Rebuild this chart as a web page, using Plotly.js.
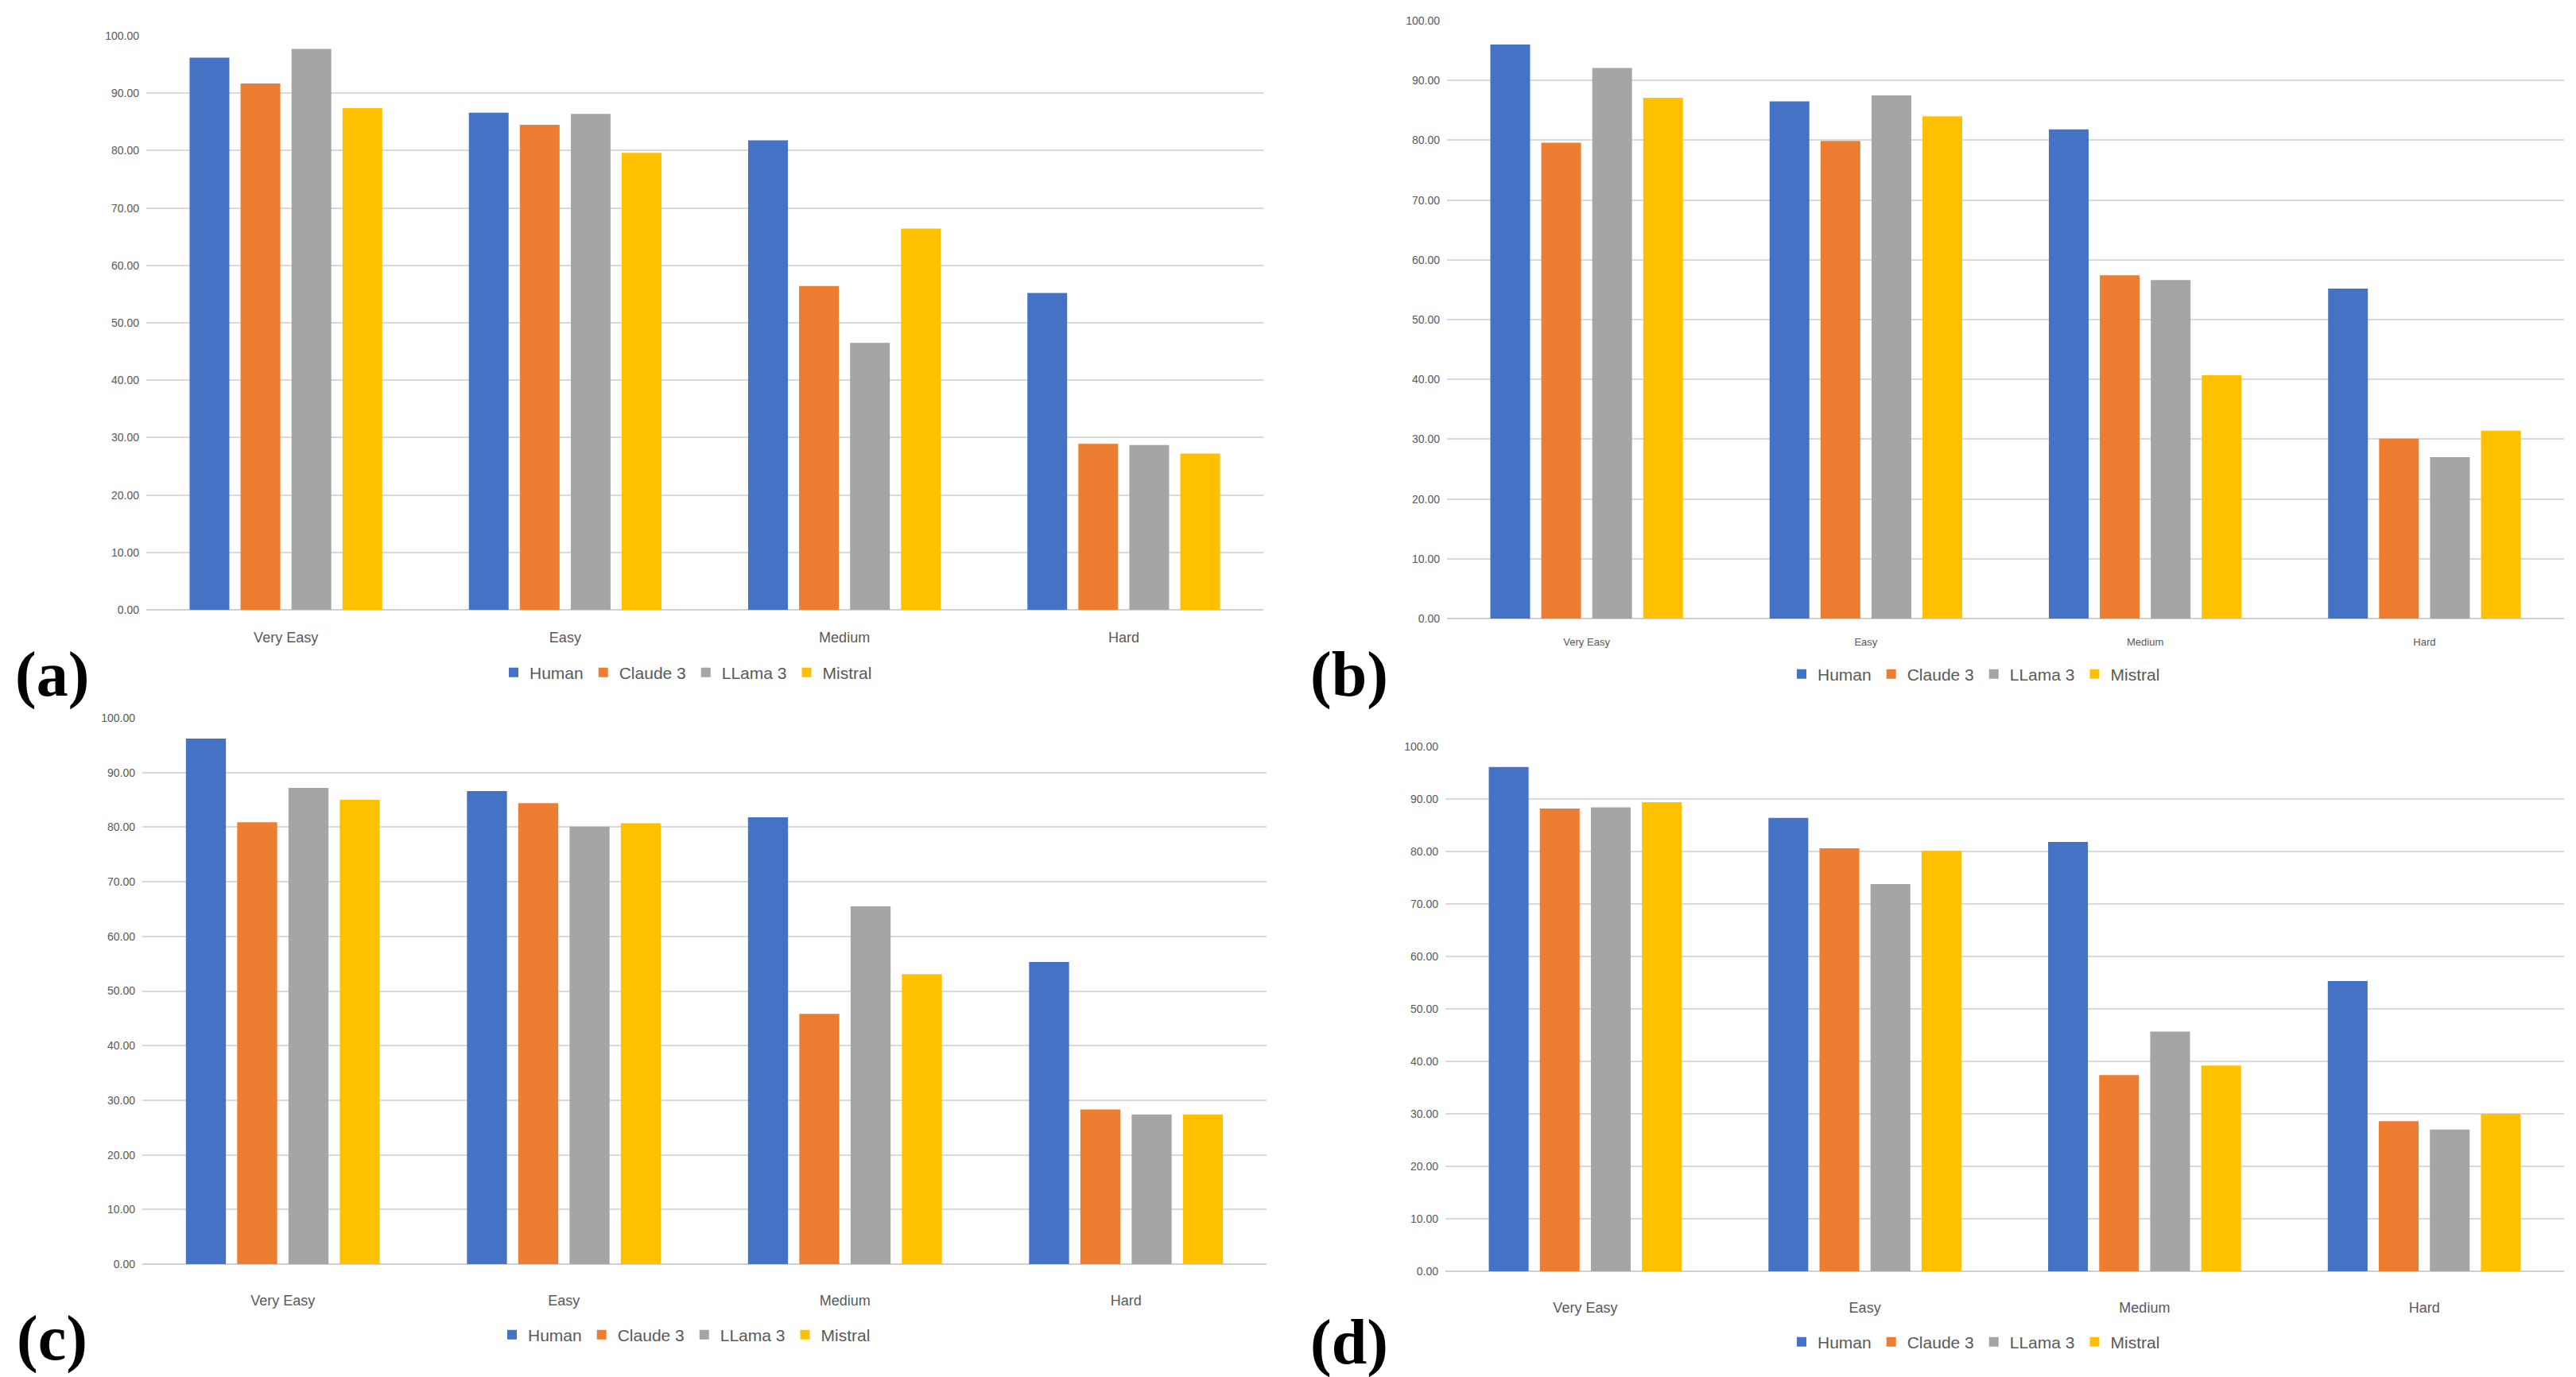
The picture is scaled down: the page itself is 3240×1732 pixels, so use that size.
<!DOCTYPE html>
<html>
<head>
<meta charset="utf-8">
<script src="https://cdn.plot.ly/plotly-3.0.1.min.js"></script>
<style>
  html, body { margin: 0; padding: 0; background: #ffffff; }
  #chart { width: 3240px; height: 1732px; }
</style>
</head>
<body>
<div id="chart"></div>
<script>
// ---------- data ----------
const categories = ['Very Easy', 'Easy', 'Medium', 'Hard'];
const seriesNames = ['Human', 'Claude 3', 'LLama 3', 'Mistral'];
const panelLabels = ['(a)', '(b)', '(c)', '(d)'];

// panel (a)
const humanA   = [96.2, 86.6, 81.8, 55.2];
const claudeA  = [91.7, 84.5, 56.4, 28.9];
const llamaA   = [97.7, 86.4, 46.5, 28.7];
const mistralA = [87.4, 79.6, 66.4, 27.2];
// panel (b)
const humanB   = [96.0, 86.5, 81.8, 55.2];
const claudeB  = [79.6, 79.9, 57.4, 30.1];
const llamaB   = [92.1, 87.5, 56.6, 27.0];
const mistralB = [87.1, 84.0, 40.7, 31.4];
// panel (c)
const humanC   = [96.2, 86.6, 81.8, 55.3];
const claudeC  = [80.9, 84.4, 45.8, 28.3];
const llamaC   = [87.2, 80.1, 65.5, 27.4];
const mistralC = [85.0, 80.7, 53.1, 27.4];
// panel (d)
const humanD   = [96.1, 86.4, 81.8, 55.3];
const claudeD  = [88.2, 80.6, 37.4, 28.6];
const llamaD   = [88.4, 73.8, 45.7, 27.0];
const mistralD = [89.4, 80.1, 39.2, 30.0];

const colors = ['#4472C4', '#ED7D31', '#A5A5A5', '#FFC000'];

// ---------- layout geometry (pixels of a 3240 x 1732 canvas) ----------
const W = 3240, H = 1732;
const panels = [
  { data: [humanA, claudeA, llamaA, mistralA], x0: 184, x1: 1589, yTop: 45,  yBot: 767,  catSize: 18, standoff: 22, legX: 864,  legY: 846,  labX: 65,   labY: 848 },
  { data: [humanB, claudeB, llamaB, mistralB], x0: 1820, x1: 3225, yTop: 26, yBot: 778,  catSize: 13, standoff: 20, legX: 2484, legY: 848,  labX: 1697, labY: 848 },
  { data: [humanC, claudeC, llamaC, mistralC], x0: 179, x1: 1593, yTop: 903, yBot: 1590, catSize: 18, standoff: 33, legX: 862,  legY: 1679, labX: 65,   labY: 1683 },
  { data: [humanD, claudeD, llamaD, mistralD], x0: 1818, x1: 3225, yTop: 939, yBot: 1599, catSize: 18, standoff: 33, legX: 2484, legY: 1688, labX: 1697, labY: 1688 }
];

const traces = [];
const layout = {
  width: W, height: H,
  margin: { l: 0, r: 0, t: 0, b: 0 },
  paper_bgcolor: '#ffffff',
  plot_bgcolor: '#ffffff',
  bargap: 0.27,
  bargroupgap: 0.22,
  barmode: 'group',
  font: { family: 'Liberation Sans, Arial, sans-serif', color: '#595959' },
  annotations: []
};

panels.forEach((p, i) => {
  const n = i === 0 ? '' : String(i + 1);
  const xa = 'x' + n, ya = 'y' + n;
  const legName = 'legend' + n;
  seriesNames.forEach((name, s) => {
    traces.push({
      type: 'bar',
      name: name,
      x: categories,
      y: p.data[s],
      xaxis: xa, yaxis: ya,
      legend: legName,
      marker: { color: colors[s], line: { width: 0 } },
      hoverinfo: 'x+y+name'
    });
  });
  layout['xaxis' + n] = {
    domain: [p.x0 / W, p.x1 / W],
    anchor: ya,
    type: 'category',
    showgrid: false,
    showline: false,
    zeroline: false,
    ticks: '',
    ticklabelstandoff: p.standoff,
    tickfont: { size: p.catSize, color: '#595959', family: 'Liberation Sans, Arial, sans-serif' },
    fixedrange: true
  };
  layout['yaxis' + n] = {
    domain: [1 - p.yBot / H, 1 - p.yTop / H],
    anchor: xa,
    range: [0, 100],
    dtick: 10,
    tick0: 0,
    tickformat: '.2f',
    showgrid: true,
    gridcolor: '#D9D9D9',
    gridwidth: 2,
    zeroline: true,
    zerolinecolor: '#D0D0D0',
    zerolinewidth: 2,
    showline: false,
    ticks: '',
    ticklabelstandoff: 8,
    tickfont: { size: 14, color: '#595959', family: 'Liberation Sans, Arial, sans-serif' },
    fixedrange: true
  };
  layout[legName] = {
    orientation: 'h',
    x: p.legX / W, y: 1 - p.legY / H,
    xanchor: 'center', yanchor: 'middle',
    xref: 'paper', yref: 'paper',
    font: { size: 21, color: '#595959', family: 'Liberation Sans, Arial, sans-serif' },
    itemwidth: 30,
    bgcolor: 'rgba(0,0,0,0)',
    traceorder: 'normal'
  };
  layout.annotations.push({
    text: '<b>' + panelLabels[i] + '</b>',
    x: p.labX / W, y: 1 - p.labY / H,
    xref: 'paper', yref: 'paper',
    xanchor: 'center', yanchor: 'middle',
    showarrow: false,
    font: { family: 'Liberation Serif, Times New Roman, serif', size: 80, color: '#000000' }
  });
});

Plotly.newPlot('chart', traces, layout, { staticPlot: true, displayModeBar: false });
</script>
</body>
</html>
